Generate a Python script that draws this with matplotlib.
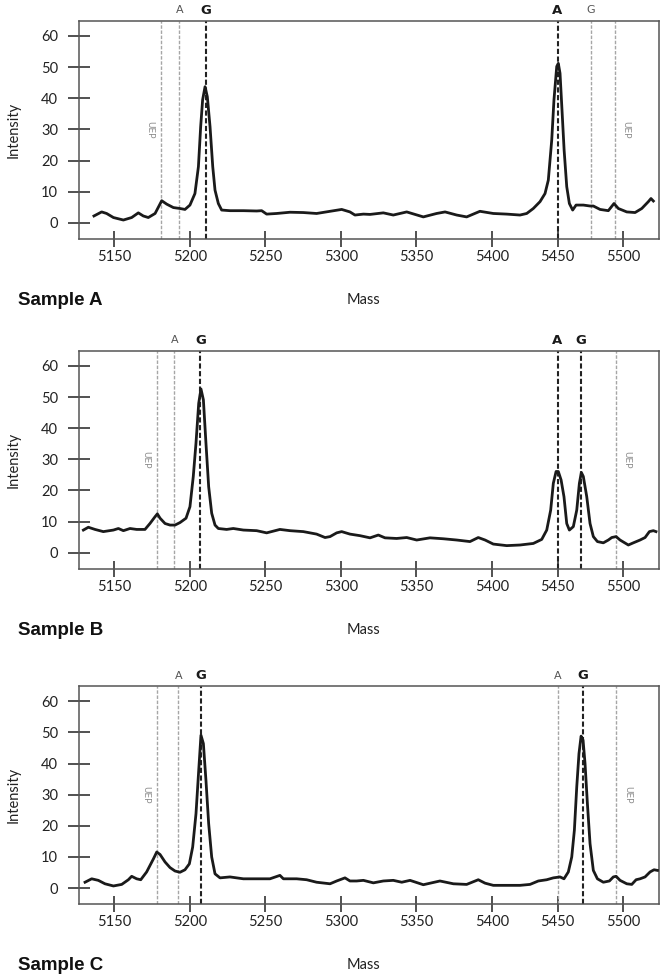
import matplotlib.pyplot as plt
import numpy as np


INK = "#1A1A1A"
FRAME = "#555555"
MARKER_GREY = "#A6A6A6"
LABEL_GREY = "#8C8C8C"

X_TICKS = [5150, 5200, 5250, 5300, 5350, 5400, 5450, 5500]
Y_TICKS = [0, 10, 20, 30, 40, 50, 60]
SAMPLE_NAMES = ["Sample A", "Sample B", "Sample C"]

# traces (mass, intensity)
MASS_A = [5136.5, 5141.6, 5144.9, 5149.4, 5156.0, 5161.5, 5165.9, 5169.2, 5172.5, 5177.0,
          5181.4, 5184.7, 5189.1, 5193.5, 5196.8, 5200.1, 5203.4, 5205.7, 5207.2, 5208.5,
          5210.1, 5211.6, 5213.4, 5215.2, 5216.7, 5218.9, 5221.1, 5226.6, 5235.5, 5244.3,
          5247.6, 5250.9, 5257.5, 5266.4, 5275.2, 5284.0, 5292.9, 5300.6, 5306.1, 5309.4,
          5315.0, 5319.4, 5328.2, 5334.8, 5343.7, 5354.7, 5363.5, 5369.1, 5376.8, 5383.4,
          5392.2, 5401.2, 5411.4, 5421.5, 5426.6, 5431.6, 5436.7, 5440.5, 5443.0, 5445.6,
          5447.3, 5449.4, 5450.6, 5451.9, 5453.4, 5455.0, 5457.0, 5459.0, 5461.5, 5464.1,
          5469.6, 5474.7, 5477.2, 5482.3, 5488.6, 5492.9, 5496.2, 5502.6, 5508.9, 5514.0,
          5519.0, 5521.0, 5522.8]
INTENSITY_A = [2.2, 3.5, 3.0, 1.7, 0.9, 1.7, 3.2, 2.2, 1.7, 3.0,
               7.1, 6.0, 4.9, 4.6, 4.3, 5.7, 9.4, 18.0, 30.9, 39.5,
               43.7, 40.5, 30.9, 18.0, 10.5, 6.2, 4.1, 3.9, 3.9, 3.8,
               3.9, 2.8, 3.0, 3.4, 3.3, 3.0, 3.7, 4.3, 3.5, 2.5,
               2.8, 2.7, 3.2, 2.5, 3.5, 1.9, 3.0, 3.5, 2.5, 1.9,
               3.7, 3.0, 2.8, 2.5, 3.0, 4.6, 6.8, 9.4, 13.7, 26.6,
               39.5, 50.2, 51.2, 48.0, 36.2, 23.4, 11.6, 6.2, 4.1, 5.7,
               5.7, 5.4, 5.4, 4.3, 3.9, 6.2, 4.6, 3.5, 3.3, 4.6,
               6.8, 7.8, 7.0]

MASS_B = [5129.5, 5132.8, 5137.2, 5142.7, 5149.4, 5152.7, 5156.0, 5160.4, 5164.8, 5170.3,
          5173.6, 5177.0, 5178.5, 5180.3, 5183.6, 5186.9, 5190.2, 5193.5, 5197.5, 5200.1,
          5202.3, 5204.1, 5205.9, 5207.4, 5209.0, 5210.7, 5212.5, 5214.5, 5216.7, 5218.9,
          5224.4, 5228.8, 5235.5, 5244.3, 5250.9, 5259.7, 5266.4, 5275.2, 5284.0, 5289.6,
          5292.9, 5297.3, 5300.6, 5306.1, 5312.7, 5319.4, 5324.9, 5329.3, 5337.0, 5343.7,
          5350.3, 5359.1, 5368.0, 5376.8, 5385.6, 5391.1, 5395.6, 5401.2, 5411.4, 5421.5,
          5431.6, 5438.0, 5441.8, 5444.8, 5446.8, 5448.9, 5450.6, 5452.7, 5454.9, 5457.0,
          5459.0, 5462.0, 5464.6, 5466.6, 5468.1, 5469.6, 5472.2, 5474.7, 5477.2, 5480.3,
          5484.8, 5488.6, 5491.2, 5494.5, 5497.5, 5503.8, 5507.6, 5512.7, 5516.5, 5519.8,
          5522.8, 5524.8]
INTENSITY_B = [7.3, 8.2, 7.5, 6.8, 7.3, 7.8, 7.1, 7.8, 7.5, 7.5,
               9.4, 11.6, 12.5, 11.1, 9.4, 8.9, 8.9, 9.7, 11.1, 14.8,
               24.5, 35.2, 48.0, 52.6, 49.1, 35.2, 21.2, 12.7, 8.9, 7.8,
               7.5, 7.8, 7.3, 7.1, 6.4, 7.5, 7.1, 6.8, 6.0, 4.9,
               5.2, 6.4, 6.8, 6.0, 5.5, 4.8, 5.7, 4.8, 4.6, 4.9,
               4.1, 4.8, 4.5, 4.1, 3.6, 4.9, 4.1, 2.8, 2.3, 2.5,
               3.0, 4.3, 7.3, 13.7, 22.3, 26.1, 26.1, 23.4, 18.0, 9.4,
               7.3, 8.4, 13.7, 22.3, 25.8, 24.5, 18.0, 9.4, 5.2, 3.6,
               3.2, 4.1, 4.9, 5.2, 4.1, 2.5, 3.2, 4.1, 4.9, 6.8,
               7.1, 6.8]

MASS_C = [5130.6, 5135.0, 5139.4, 5143.8, 5149.4, 5154.9, 5159.3, 5161.5, 5164.8, 5167.5,
          5171.4, 5175.9, 5178.1, 5180.3, 5183.6, 5186.9, 5190.2, 5193.5, 5196.8, 5199.7,
          5201.9, 5204.1, 5205.9, 5207.4, 5209.0, 5210.7, 5212.5, 5214.5, 5216.7, 5220.0,
          5226.6, 5235.5, 5244.3, 5253.1, 5259.7, 5262.0, 5270.8, 5277.4, 5284.0, 5292.9,
          5297.3, 5302.8, 5306.1, 5310.5, 5315.0, 5321.6, 5328.2, 5334.8, 5340.4, 5345.9,
          5354.7, 5365.7, 5374.6, 5383.4, 5391.1, 5395.6, 5401.2, 5411.4, 5421.5, 5429.1,
          5435.4, 5441.8, 5446.8, 5451.9, 5454.9, 5458.2, 5460.8, 5462.8, 5464.6, 5466.3,
          5467.9, 5469.4, 5470.9, 5472.7, 5474.7, 5477.2, 5480.3, 5484.8, 5489.4, 5492.4,
          5494.5, 5497.5, 5502.6, 5506.4, 5509.7, 5512.7, 5516.5, 5520.3, 5523.3, 5525.9]
INTENSITY_C = [1.9, 3.0, 2.5, 1.4, 0.7, 1.2, 2.7, 3.8, 3.0, 2.7,
               5.2, 9.4, 11.6, 10.8, 8.4, 6.6, 5.5, 5.1, 5.9, 7.8,
               13.2, 23.9, 37.8, 49.1, 46.4, 34.6, 20.7, 10.0, 4.6, 3.3,
               3.6, 3.0, 3.0, 3.0, 4.1, 3.0, 3.0, 2.7, 1.9, 1.4,
               2.3, 3.3, 2.3, 2.3, 2.5, 1.7, 2.3, 2.5, 1.9, 2.5,
               1.1, 2.3, 1.4, 1.2, 2.7, 1.6, 0.9, 0.9, 0.9, 1.2,
               2.3, 2.7, 3.3, 3.6, 3.0, 5.2, 10.0, 18.6, 32.5, 43.2,
               48.8, 47.5, 40.0, 27.1, 14.3, 5.7, 3.0, 1.9, 2.3, 3.6,
               3.8, 2.5, 1.4, 1.2, 2.7, 3.0, 3.6, 5.2, 5.9, 5.7]

# expected masses: unextended primer and the two allele products, per side
MARKER_LABELS = ["UEP", "A", "G", "A", "G", "UEP"]
MARKER_MASS_A = [5181.0, 5193.0, 5210.5, 5450.0, 5475.2, 5493.5]
MARKER_MASS_B = [5178.3, 5189.7, 5207.0, 5450.0, 5467.9, 5494.2]
MARKER_MASS_C = [5178.3, 5192.4, 5207.4, 5450.5, 5469.0, 5494.7]
CALLED_A = [False, False, True, True, False, False]
CALLED_B = [False, False, True, True, True, False]
CALLED_C = [False, False, True, False, True, False]

# the printed mass axis is squeezed past 5400
SQUEEZE_FROM = 5400
SQUEEZE = 0.872


def squeeze(mass):
    mass = np.asarray(mass, dtype=float)
    return np.where(mass <= SQUEEZE_FROM, mass, SQUEEZE_FROM + (mass - SQUEEZE_FROM) * SQUEEZE)


def unsqueeze(value):
    value = np.asarray(value, dtype=float)
    return np.where(value <= SQUEEZE_FROM, value, SQUEEZE_FROM + (value - SQUEEZE_FROM) / SQUEEZE)


def draw_panel(figure, bottom, name, mass, intensity, marker_mass, called):
    axes = figure.add_axes([0.1188, bottom, 0.8722, 0.2228])
    axes.set_xscale("function", functions=(squeeze, unsqueeze))

    for label, position, is_called in zip(MARKER_LABELS, marker_mass, called):
        if is_called:
            axes.axvline(position, color="#222222", linewidth=1.5, linestyle=(0, (2.5, 1.2)), zorder=2)
        else:
            axes.axvline(position, color=MARKER_GREY, linewidth=1.0, linestyle=(0, (2.5, 1.2)), zorder=2)

        if label == "UEP":
            offset = -8 if position < 5300 else 8
            axes.annotate(
                "UEP", xy=(position, 30), xytext=(offset, 0), textcoords="offset points",
                rotation=-90, ha="center", va="center", fontsize=6.5, color=LABEL_GREY,
                family="DejaVu Sans",
            )
        else:
            axes.annotate(
                label, xy=(position, 1), xycoords=("data", "axes fraction"),
                xytext=(0, 7.5), textcoords="offset points", ha="center", va="center",
                fontsize=9.5 if is_called else 8,
                fontweight="bold" if is_called else "normal",
                color=INK if is_called else "#555555", family="DejaVu Sans",
            )

    axes.plot(mass, intensity, color=INK, linewidth=2.0, solid_joinstyle="round", zorder=3)

    axes.set_xlim(5126.6, 5527.1)
    axes.set_ylim(-5.2, 64.9)
    axes.set_xticks(X_TICKS)
    axes.set_yticks(Y_TICKS)
    axes.set_xticklabels([str(tick) for tick in X_TICKS])
    axes.tick_params(axis="x", direction="inout", length=12, width=1.2, color="#333333",
                     pad=2, labelsize=10.5, labelcolor="#222222")
    axes.tick_params(axis="y", direction="inout", length=16, width=1.2, color="#333333",
                     pad=7, labelsize=10.5, labelcolor="#222222")
    for label in axes.get_xticklabels() + axes.get_yticklabels():
        label.set_family("Lato")
    for spine in axes.spines.values():
        spine.set_color(FRAME)
        spine.set_linewidth(1.1)

    axes.set_ylabel("Intensity", fontsize=10.5, family="Lato", color="#222222")
    axes.yaxis.set_label_coords(-0.101, 0.5)

    axes.text(-0.105, -0.28, name, transform=axes.transAxes, fontsize=13.5,
              fontweight="bold", family="Liberation Sans", color="#111111", va="center")
    axes.text(0.49, -0.28, "Mass", transform=axes.transAxes, fontsize=10.5,
              family="Lato", color="#222222", ha="center", va="center")
    return axes


def main():
    figure = plt.figure(figsize=(6.65, 9.8), dpi=100)
    figure.patch.set_facecolor("white")
    draw_panel(figure, 0.7561, SAMPLE_NAMES[0], MASS_A, INTENSITY_A, MARKER_MASS_A, CALLED_A)
    draw_panel(figure, 0.4194, SAMPLE_NAMES[1], MASS_B, INTENSITY_B, MARKER_MASS_B, CALLED_B)
    draw_panel(figure, 0.0772, SAMPLE_NAMES[2], MASS_C, INTENSITY_C, MARKER_MASS_C, CALLED_C)
    figure.savefig("out.png", dpi=100, facecolor="white")
    plt.close(figure)


if __name__ == "__main__":
    main()
